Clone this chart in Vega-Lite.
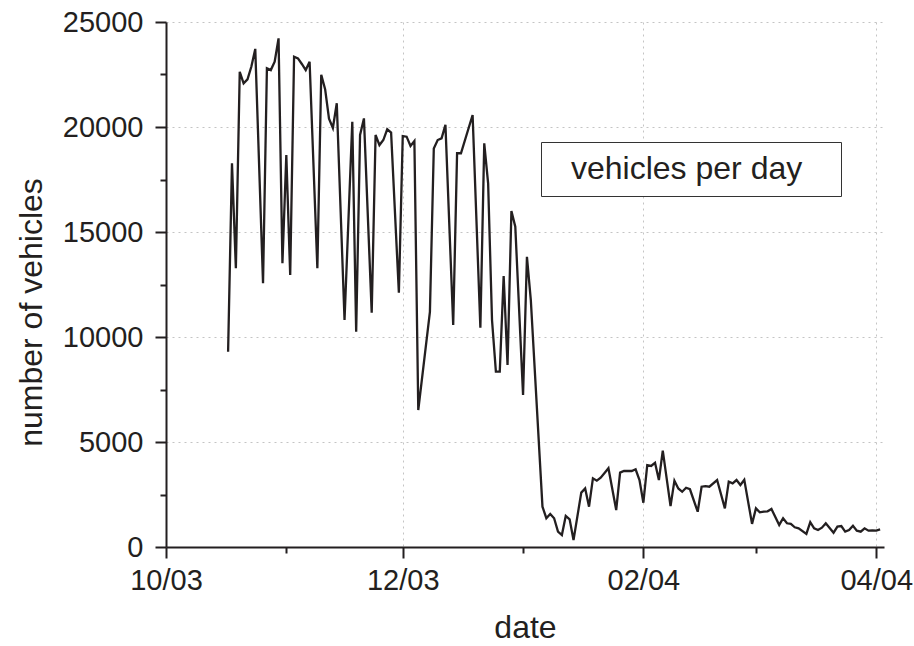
{
  "$schema": "https://vega.github.io/schema/vega-lite/v6.json",
  "width": 718,
  "height": 525,
  "autosize": "none",
  "padding": {"left": 166, "top": 22, "right": 30, "bottom": 99},
  "background": "white",
  "config": {
    "font": "Liberation Sans",
    "view": {"stroke": null},
    "axis": {
      "domainColor": "#231f20",
      "domainWidth": 2,
      "tickColor": "#231f20",
      "tickWidth": 2,
      "labelColor": "#231f20",
      "titleColor": "#231f20",
      "labelFont": "Liberation Sans",
      "titleFont": "Liberation Sans",
      "titleFontSize": 32,
      "titleFontWeight": "normal",
      "gridColor": "#c4c4c4",
      "gridDash": [2, 4],
      "gridWidth": 1
    }
  },
  "data": {
    "values": [
      {"date": "2003-10-17", "vehicles": 9300},
      {"date": "2003-10-18", "vehicles": 18270},
      {"date": "2003-10-19", "vehicles": 13270},
      {"date": "2003-10-20", "vehicles": 22630},
      {"date": "2003-10-21", "vehicles": 22080},
      {"date": "2003-10-22", "vehicles": 22270},
      {"date": "2003-10-23", "vehicles": 22880},
      {"date": "2003-10-24", "vehicles": 23720},
      {"date": "2003-10-26", "vehicles": 12560},
      {"date": "2003-10-27", "vehicles": 22800},
      {"date": "2003-10-28", "vehicles": 22710},
      {"date": "2003-10-29", "vehicles": 23110},
      {"date": "2003-10-30", "vehicles": 24220},
      {"date": "2003-10-31", "vehicles": 13510},
      {"date": "2003-11-01", "vehicles": 18670},
      {"date": "2003-11-02", "vehicles": 12950},
      {"date": "2003-11-03", "vehicles": 23350},
      {"date": "2003-11-04", "vehicles": 23270},
      {"date": "2003-11-05", "vehicles": 23000},
      {"date": "2003-11-06", "vehicles": 22710},
      {"date": "2003-11-07", "vehicles": 23110},
      {"date": "2003-11-09", "vehicles": 13270},
      {"date": "2003-11-10", "vehicles": 22490},
      {"date": "2003-11-11", "vehicles": 21800},
      {"date": "2003-11-12", "vehicles": 20400},
      {"date": "2003-11-13", "vehicles": 19950},
      {"date": "2003-11-14", "vehicles": 21130},
      {"date": "2003-11-16", "vehicles": 10810},
      {"date": "2003-11-18", "vehicles": 20250},
      {"date": "2003-11-19", "vehicles": 10250},
      {"date": "2003-11-20", "vehicles": 19620},
      {"date": "2003-11-21", "vehicles": 20410},
      {"date": "2003-11-23", "vehicles": 11160},
      {"date": "2003-11-24", "vehicles": 19620},
      {"date": "2003-11-25", "vehicles": 19140},
      {"date": "2003-11-26", "vehicles": 19380},
      {"date": "2003-11-27", "vehicles": 19890},
      {"date": "2003-11-28", "vehicles": 19730},
      {"date": "2003-11-30", "vehicles": 12110},
      {"date": "2003-12-01", "vehicles": 19570},
      {"date": "2003-12-02", "vehicles": 19540},
      {"date": "2003-12-03", "vehicles": 19100},
      {"date": "2003-12-04", "vehicles": 19330},
      {"date": "2003-12-05", "vehicles": 6520},
      {"date": "2003-12-08", "vehicles": 11200},
      {"date": "2003-12-09", "vehicles": 18980},
      {"date": "2003-12-10", "vehicles": 19380},
      {"date": "2003-12-11", "vehicles": 19460},
      {"date": "2003-12-12", "vehicles": 20100},
      {"date": "2003-12-14", "vehicles": 10570},
      {"date": "2003-12-15", "vehicles": 18750},
      {"date": "2003-12-16", "vehicles": 18750},
      {"date": "2003-12-19", "vehicles": 20570},
      {"date": "2003-12-21", "vehicles": 10440},
      {"date": "2003-12-22", "vehicles": 19220},
      {"date": "2003-12-23", "vehicles": 17320},
      {"date": "2003-12-24", "vehicles": 10810},
      {"date": "2003-12-25", "vehicles": 8350},
      {"date": "2003-12-26", "vehicles": 8350},
      {"date": "2003-12-27", "vehicles": 12900},
      {"date": "2003-12-28", "vehicles": 8670},
      {"date": "2003-12-29", "vehicles": 16000},
      {"date": "2003-12-30", "vehicles": 15250},
      {"date": "2004-01-01", "vehicles": 7240},
      {"date": "2004-01-02", "vehicles": 13820},
      {"date": "2004-01-03", "vehicles": 11760},
      {"date": "2004-01-06", "vehicles": 1920},
      {"date": "2004-01-07", "vehicles": 1370},
      {"date": "2004-01-08", "vehicles": 1570},
      {"date": "2004-01-09", "vehicles": 1370},
      {"date": "2004-01-10", "vehicles": 730},
      {"date": "2004-01-11", "vehicles": 570},
      {"date": "2004-01-12", "vehicles": 1480},
      {"date": "2004-01-13", "vehicles": 1320},
      {"date": "2004-01-14", "vehicles": 330},
      {"date": "2004-01-16", "vehicles": 2590},
      {"date": "2004-01-17", "vehicles": 2790},
      {"date": "2004-01-18", "vehicles": 1920},
      {"date": "2004-01-19", "vehicles": 3270},
      {"date": "2004-01-20", "vehicles": 3160},
      {"date": "2004-01-21", "vehicles": 3300},
      {"date": "2004-01-22", "vehicles": 3520},
      {"date": "2004-01-23", "vehicles": 3750},
      {"date": "2004-01-25", "vehicles": 1760},
      {"date": "2004-01-26", "vehicles": 3540},
      {"date": "2004-01-27", "vehicles": 3620},
      {"date": "2004-01-28", "vehicles": 3620},
      {"date": "2004-01-29", "vehicles": 3620},
      {"date": "2004-01-30", "vehicles": 3700},
      {"date": "2004-01-31", "vehicles": 3190},
      {"date": "2004-02-01", "vehicles": 2110},
      {"date": "2004-02-02", "vehicles": 3900},
      {"date": "2004-02-03", "vehicles": 3860},
      {"date": "2004-02-04", "vehicles": 4010},
      {"date": "2004-02-05", "vehicles": 3190},
      {"date": "2004-02-06", "vehicles": 4590},
      {"date": "2004-02-08", "vehicles": 1950},
      {"date": "2004-02-09", "vehicles": 3160},
      {"date": "2004-02-10", "vehicles": 2790},
      {"date": "2004-02-11", "vehicles": 2630},
      {"date": "2004-02-12", "vehicles": 2820},
      {"date": "2004-02-13", "vehicles": 2750},
      {"date": "2004-02-15", "vehicles": 1680},
      {"date": "2004-02-16", "vehicles": 2870},
      {"date": "2004-02-17", "vehicles": 2900},
      {"date": "2004-02-18", "vehicles": 2870},
      {"date": "2004-02-20", "vehicles": 3190},
      {"date": "2004-02-22", "vehicles": 1840},
      {"date": "2004-02-23", "vehicles": 3110},
      {"date": "2004-02-24", "vehicles": 3030},
      {"date": "2004-02-25", "vehicles": 3190},
      {"date": "2004-02-26", "vehicles": 2950},
      {"date": "2004-02-27", "vehicles": 3200},
      {"date": "2004-02-29", "vehicles": 1100},
      {"date": "2004-03-01", "vehicles": 1840},
      {"date": "2004-03-02", "vehicles": 1650},
      {"date": "2004-03-03", "vehicles": 1680},
      {"date": "2004-03-04", "vehicles": 1700},
      {"date": "2004-03-05", "vehicles": 1810},
      {"date": "2004-03-07", "vehicles": 1050},
      {"date": "2004-03-08", "vehicles": 1370},
      {"date": "2004-03-09", "vehicles": 1130},
      {"date": "2004-03-10", "vehicles": 1100},
      {"date": "2004-03-11", "vehicles": 940},
      {"date": "2004-03-12", "vehicles": 890},
      {"date": "2004-03-14", "vehicles": 620},
      {"date": "2004-03-15", "vehicles": 1180},
      {"date": "2004-03-16", "vehicles": 890},
      {"date": "2004-03-17", "vehicles": 810},
      {"date": "2004-03-18", "vehicles": 920},
      {"date": "2004-03-19", "vehicles": 1130},
      {"date": "2004-03-21", "vehicles": 680},
      {"date": "2004-03-22", "vehicles": 970},
      {"date": "2004-03-23", "vehicles": 1000},
      {"date": "2004-03-24", "vehicles": 730},
      {"date": "2004-03-25", "vehicles": 810},
      {"date": "2004-03-26", "vehicles": 1010},
      {"date": "2004-03-27", "vehicles": 780},
      {"date": "2004-03-28", "vehicles": 730},
      {"date": "2004-03-29", "vehicles": 890},
      {"date": "2004-03-30", "vehicles": 780},
      {"date": "2004-03-31", "vehicles": 790},
      {"date": "2004-04-01", "vehicles": 780},
      {"date": "2004-04-02", "vehicles": 840}
    ]
  },
  "mark": {"type": "line", "strokeWidth": 2.3, "interpolate": "linear"},
  "encoding": {
    "x": {
      "field": "date",
      "type": "temporal",
      "title": "date",
      "scale": {
        "type": "utc",
        "domain": [
          {"year": 2003, "month": 10, "date": 1, "utc": true},
          {"year": 2004, "month": 4, "date": 3, "utc": true}
        ]
      },
      "axis": {
        "values": [
          {"year": 2003, "month": 10, "date": 1, "utc": true},
          {"year": 2003, "month": 11, "date": 1, "utc": true},
          {"year": 2003, "month": 12, "date": 1, "utc": true},
          {"year": 2004, "month": 1, "date": 1, "utc": true},
          {"year": 2004, "month": 2, "date": 1, "utc": true},
          {"year": 2004, "month": 3, "date": 1, "utc": true},
          {"year": 2004, "month": 4, "date": 1, "utc": true}
        ],
        "format": "%m/%y",
        "labelExpr": "utcmonth(datum.value) % 2 == 1 ? datum.label : ''",
        "tickSize": {"condition": {"test": "utcmonth(datum.value) % 2 == 1", "value": 11}, "value": 6},
        "gridOpacity": {"condition": {"test": "utcmonth(datum.value) % 2 == 1", "value": 1}, "value": 0},
        "labelFontSize": 29,
        "labelPadding": 8,
        "labelFlush": false,
        "labelOverlap": false,
        "titleBaseline": "alphabetic",
        "titleY": 90
      }
    },
    "y": {
      "field": "vehicles",
      "type": "quantitative",
      "title": "number of vehicles",
      "scale": {"domain": [0, 25000], "nice": false},
      "axis": {
        "values": [0, 2500, 5000, 7500, 10000, 12500, 15000, 17500, 20000, 22500, 25000],
        "format": "d",
        "labelExpr": "datum.value % 5000 == 0 ? datum.label : ''",
        "tickSize": {"condition": {"test": "datum.value % 5000 == 0", "value": 11}, "value": 6},
        "gridOpacity": {"condition": {"test": "datum.value % 5000 == 0 && datum.value > 0", "value": 1}, "value": 0},
        "labelFontSize": 29,
        "labelPadding": 12,
        "labelOverlap": false,
        "labelFlush": false,
        "titlePadding": 14,
        "titleY": 290
      }
    },
    "color": {
      "datum": "vehicles per day",
      "scale": {"range": ["#231f20"]},
      "legend": {
        "title": ".",
        "titleOrient": "right",
        "titleFontSize": 10,
        "titleOpacity": 0,
        "titlePadding": 25,
        "orient": "none",
        "legendX": 375,
        "legendY": 120,
        "fillColor": "white",
        "strokeColor": "#333333",
        "padding": 11,
        "symbolSize": 0,
        "symbolOpacity": 0,
        "symbolStrokeWidth": 0,
        "labelOffset": -13,
        "labelFontSize": 32,
        "labelFont": "Liberation Sans",
        "labelColor": "#231f20",
        "labelLimit": 400
      }
    }
  }
}
